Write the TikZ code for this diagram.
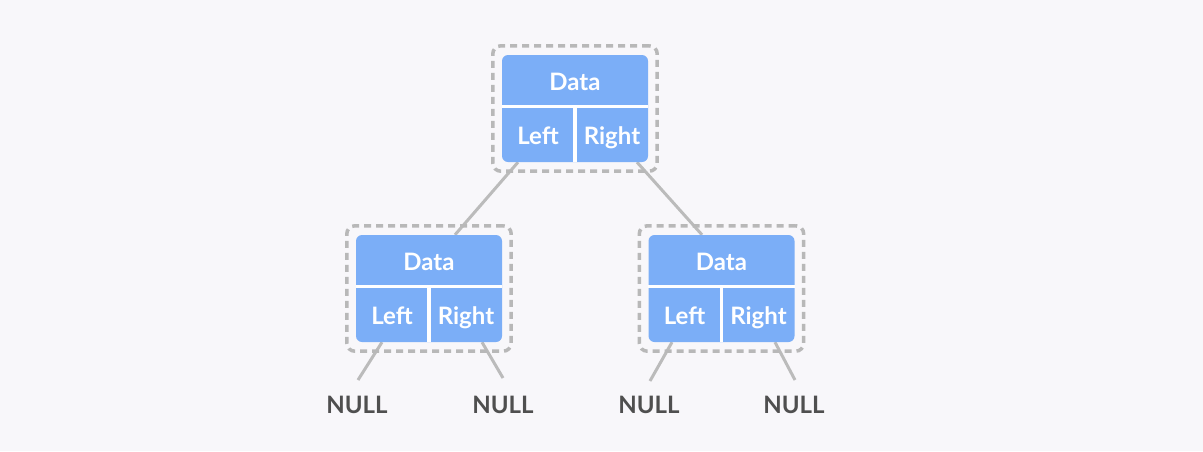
\documentclass[tikz,border=0pt]{standalone}
\usepackage{fontspec}
\setmainfont{Lato}
\usetikzlibrary{positioning, fit, backgrounds}
\pgfdeclarelayer{links}
\pgfsetlayers{background,links,main}
\definecolor{nodeblue}{HTML}{7BAEF7}
\definecolor{linegray}{HTML}{BBBBBB}
\definecolor{framegray}{HTML}{B8B8B8}
\definecolor{nulltext}{HTML}{4F4F4F}
\definecolor{bgcol}{HTML}{F8F7FA}

\begin{document}
\begin{tikzpicture}[x=1pt, y=-1pt,
    treenode/.style={fill=nodeblue, rounded corners=6pt, minimum width=146pt,
                     minimum height=107pt, inner sep=0pt},
    celltxt/.style={text=white, font=\fontsize{24}{28}\selectfont\bfseries,
                    inner sep=0pt, text height=17pt, text depth=0pt},
    frame/.style={draw=framegray, line width=3.5pt, dash pattern=on 7pt off 5pt,
                  rounded corners=8pt, inner sep=9pt},
    divider/.style={draw=white, line width=3.5pt},
    link/.style={draw=linegray, line width=3pt},
    nulllbl/.style={text=nulltext, font=\fontsize{24}{28}\selectfont\bfseries,
                    inner sep=0pt, text height=18pt, text depth=0pt, anchor=north},
]
\begin{pgfonlayer}{background}
  \fill[bgcol] (0,0) rectangle (1203,451);
\end{pgfonlayer}
\useasboundingbox (0,0) rectangle (1203,451);

% root
\node[treenode] (root) at (575,108.5) {};
\node[celltxt] (rootD) at ([shift={(0,-27)}]root.center) {Data};
\node[celltxt] (rootL) at ([shift={(-37,27.5)}]root.center) {Left};
\node[celltxt] (rootR) at ([shift={(37,27.5)}]root.center) {Right};
\draw[divider] ([shift={(0,-2)}]root.west) -- ([shift={(0,-2)}]root.east);
\draw[divider] ([shift={(0,-2)}]root.center) -- (root.south);
\node[frame, fit=(root)] (rootF) {};

% left child
\node[treenode] (lc) at (429,288.5) {};
\node[celltxt] (lcD) at ([shift={(0,-27)}]lc.center) {Data};
\node[celltxt] (lcL) at ([shift={(-37,27.5)}]lc.center) {Left};
\node[celltxt] (lcR) at ([shift={(37,27.5)}]lc.center) {Right};
\draw[divider] ([shift={(0,-2)}]lc.west) -- ([shift={(0,-2)}]lc.east);
\draw[divider] ([shift={(0,-2)}]lc.center) -- (lc.south);
\node[frame, fit=(lc)] (lcF) {};

% right child
\node[treenode] (rc) at (721.5,288.5) {};
\node[celltxt] (rcD) at ([shift={(0,-27)}]rc.center) {Data};
\node[celltxt] (rcL) at ([shift={(-37,27.5)}]rc.center) {Left};
\node[celltxt] (rcR) at ([shift={(37,27.5)}]rc.center) {Right};
\draw[divider] ([shift={(0,-2)}]rc.west) -- ([shift={(0,-2)}]rc.east);
\draw[divider] ([shift={(0,-2)}]rc.center) -- (rc.south);
\node[frame, fit=(rc)] (rcF) {};

% leaves
\node[nulllbl] (nl1) at (357,395) {NULL};
\node[nulllbl] (nl2) at (503,395) {NULL};
\node[nulllbl] (nl3) at (649,395) {NULL};
\node[nulllbl] (nl4) at (794,395) {NULL};

\begin{pgfonlayer}{links}
  \draw[link] ([xshift=-57pt]root.south) -- ([xshift=26pt]lc.north);
  \draw[link] ([xshift=62pt]root.south) -- ([xshift=-19.5pt]rc.north);
  \draw[link] ([xshift=-47pt]lc.south) -- ([shift={(1,-15)}]nl1.north);
  \draw[link] ([xshift=53pt]lc.south) -- ([shift={(0,-17)}]nl2.north);
  \draw[link] ([xshift=-49.5pt]rc.south) -- ([shift={(1,-14)}]nl3.north);
  \draw[link] ([xshift=53.5pt]rc.south) -- ([shift={(1,-15)}]nl4.north);
\end{pgfonlayer}
\end{tikzpicture}
\end{document}
